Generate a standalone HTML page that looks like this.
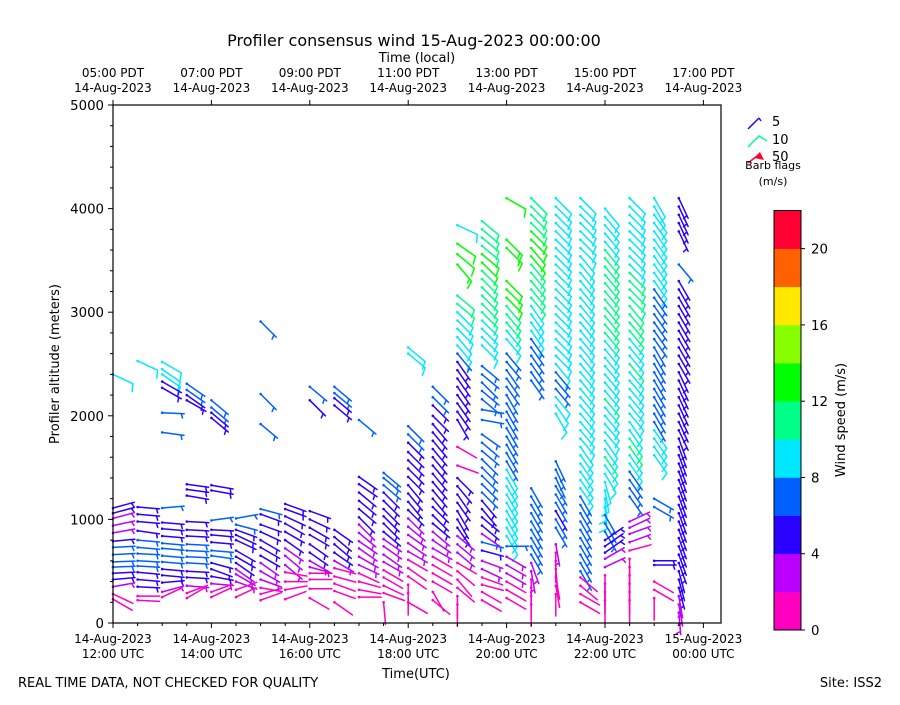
<!DOCTYPE html>
<html><head><meta charset="utf-8">
<style>
html,body{margin:0;padding:0;background:#fff;}
svg text{font-family:"DejaVu Sans","Liberation Sans",sans-serif;fill:#000;}
</style></head>
<body>
<svg id="chart" width="900" height="700" viewBox="0 0 900 700" xmlns="http://www.w3.org/2000/svg">
<rect x="0" y="0" width="900" height="700" fill="#fff"/>
<text x="414" y="46" font-size="16" text-anchor="middle">Profiler consensus wind 15-Aug-2023 00:00:00</text>
<text x="417" y="62" font-size="13" text-anchor="middle">Time (local)</text>
<g id="barbs"></g>
<g id="axes"></g>
<rect x="113" y="105" width="608" height="518" fill="none" stroke="#000" stroke-width="1.2"/>
<text transform="translate(59,364) rotate(-90)" font-size="13" text-anchor="middle">Profiler altitude (meters)</text>
<text x="416" y="678" font-size="13" text-anchor="middle">Time(UTC)</text>
<text x="18" y="687" font-size="13">REAL TIME DATA, NOT CHECKED FOR QUALITY</text>
<text x="882" y="687" font-size="13" text-anchor="end">Site: ISS2</text>
<g>
<line x1="748" y1="129" x2="759" y2="118" stroke="#2a00ff" stroke-width="1.5"/>
<line x1="759" y1="118" x2="761" y2="121" stroke="#2a00ff" stroke-width="1.5"/>
<text x="772" y="126" font-size="13">5</text>
<polyline points="748,147 759,136 767,141" fill="none" stroke="#00ff88" stroke-width="1.5"/>
<text x="772" y="144" font-size="13">10</text>
<line x1="748" y1="163" x2="757" y2="156" stroke="#ff0033" stroke-width="1.5"/>
<polygon points="754,158 760,152 764,160" fill="#ff0033"/>
<text x="772" y="161" font-size="13">50</text>
<text x="773" y="169" font-size="11" text-anchor="middle">Barb flags</text>
<text x="773" y="185" font-size="11" text-anchor="middle">(m/s)</text>
</g>
<g id="cbar"></g>
<text transform="translate(845,420) rotate(-90)" font-size="13" text-anchor="middle">Wind speed (m/s)</text>
</svg>
<script>
const NS="http://www.w3.org/2000/svg";
const levels=[0,2,4,6,8,10,12,14,16,18,20,22];
const levelColors=["#ff00c0","#bb00ff","#2a00ff","#0060ff","#00e8ff","#00ff88","#00ff00","#88ff00","#ffe800","#ff6000","#ff0033"];
const cbarTicks=[0,4,8,12,16,20];
const yTicks=[0,1000,2000,3000,4000,5000];
const xTickHours=[12,14,16,18,20,22,24];
const xTickUTC=["12:00 UTC","14:00 UTC","16:00 UTC","18:00 UTC","20:00 UTC","22:00 UTC","00:00 UTC"];
const xTickDate=["14-Aug-2023","14-Aug-2023","14-Aug-2023","14-Aug-2023","14-Aug-2023","14-Aug-2023","15-Aug-2023"];
const xTickPDT=["05:00 PDT","07:00 PDT","09:00 PDT","11:00 PDT","13:00 PDT","15:00 PDT","17:00 PDT"];
const profileTimes=[12,12.5,13,13.5,14,14.5,15,15.5,16,16.5,17,17.5,18,18.5,19,19.5,20,20.5,21,21.5,22,22.5,23,23.5];
// each profile: [height m, speed m/s, barb screen angle deg]
const profileBarbs=[
[[2400,9,25],[1110,4,-15],[1060,4,-15],[1010,3,-15],[940,3,-12],[870,3,-10],[790,5,-5],[730,6,-3],[660,6,-3],[590,7,-2],[540,6,-2],[480,5,-3],[420,4,-5],[350,3,-10],[280,1.5,25],[230,1.5,30]],
[[2530,8,25],[1120,5,5],[1050,5,5],[980,5,5],[890,5,8],[800,6,5],[730,7,5],[670,7,3],[600,7,3],[550,6,3],[490,5,5],[420,5,5],[350,4,3],[260,1.5,0],[220,1.5,3]],
[[2520,9,30],[2450,9,35],[2400,8,35],[2330,5,30],[2270,4,30],[2030,6,3],[1840,6,8],[1110,7,-5],[970,5,5],[910,5,5],[840,5,5],[770,6,5],[720,7,5],[650,6,5],[590,6,5],[520,5,5],[460,5,5],[390,4,-5],[300,3,-15],[250,1.5,-25]],
[[2310,6,35],[2250,6,35],[2200,5,35],[2150,4,30],[1340,5,8],[1290,5,8],[1230,4,10],[980,5,3],[900,5,3],[840,5,3],[760,6,3],[700,7,3],[640,6,3],[580,6,3],[500,5,3],[440,4,3],[360,3,5],[290,1.5,-20],[240,1.5,-30]],
[[2150,6,40],[2080,6,40],[2030,5,40],[1980,4,40],[1330,4,10],[1280,4,10],[990,6,-8],[900,5,3],[850,5,5],[780,5,5],[700,6,5],[650,6,8],[580,5,15],[520,5,20],[450,4,10],[380,3,5],[300,1.5,-20],[250,1.5,-25]],
[[1010,6,-10],[950,6,15],[900,5,20],[850,5,25],[800,5,25],[700,5,30],[640,4,30],[580,4,35],[520,3,35],[470,3,30],[400,3,20],[320,1.5,-20],[250,1.5,-25]],
[[2910,6,45],[2210,6,45],[1920,6,40],[1100,6,15],[1050,5,20],[950,5,20],[880,5,25],[800,4,30],[730,4,30],[650,4,30],[580,3,35],[500,3,30],[420,3,20],[340,1.5,10],[280,1.5,-15],[220,1.5,-20]],
[[1150,5,20],[1100,5,20],[1030,5,25],[960,4,30],[880,4,30],[800,4,35],[720,3,35],[650,3,40],[560,3,40],[490,1.5,10],[400,1.5,0],[320,1.5,-10],[230,1.5,-20]],
[[2280,6,40],[2150,5,45],[1080,5,20],[1000,5,25],[920,5,30],[850,4,30],[760,4,35],[680,4,35],[600,3,30],[540,3,15],[480,1.5,0],[420,1.5,0],[330,1.5,0],[240,1.5,30]],
[[2280,6,40],[2220,6,40],[2170,5,40],[2100,5,40],[900,5,35],[830,4,40],[760,4,40],[680,4,35],[600,3,30],[530,1.5,15],[450,1.5,15],[380,1.5,20],[310,1.5,20],[200,1.5,35]],
[[1960,6,40],[1410,5,35],[1340,5,35],[1260,5,40],[1180,4,40],[1100,4,40],[1020,4,45],[950,3,45],[870,3,40],[790,3,35],[720,3,35],[640,3,30],[560,3,25],[480,1.5,25],[400,1.5,15],[320,1.5,10],[250,1.5,0]],
[[1450,6,40],[1400,6,40],[1330,6,40],[1260,5,45],[1180,5,45],[1100,5,45],[1030,4,45],[960,4,45],[880,4,40],[810,3,35],[740,3,35],[660,3,35],[590,3,30],[510,1.5,30],[440,1.5,30],[360,1.5,25],[290,1.5,20],[200,1.5,85]],
[[2660,8,40],[2600,8,40],[1900,6,45],[1820,6,45],[1740,5,45],[1650,5,45],[1570,5,45],[1490,5,45],[1410,5,45],[1330,5,50],[1250,4,50],[1170,4,50],[1090,4,45],[1010,3,45],[930,3,40],[850,3,35],[770,3,35],[690,3,30],[610,1.5,30],[530,1.5,35],[450,1.5,35],[370,1.5,90],[290,1.5,90],[200,1.5,30]],
[[2280,6,45],[2180,6,45],[2100,5,45],[2000,5,45],[1920,5,50],[1840,5,50],[1760,5,50],[1680,5,50],[1600,5,50],[1520,5,50],[1440,5,50],[1360,5,50],[1280,4,50],[1200,4,50],[1120,4,45],[1040,4,45],[960,4,40],[880,3,40],[800,3,35],[720,3,30],[640,1.5,30],[560,1.5,30],[480,1.5,30],[400,1.5,30],[300,1.5,60],[220,1.5,40]],
[[3840,9,25],[3660,12,35],[3560,12,40],[3460,13,50],[3160,11,40],[3080,10,40],[3000,9,45],[2920,9,45],[2840,8,45],[2760,8,50],[2680,8,50],[2600,7,50],[2520,5,55],[2440,5,55],[2360,5,55],[2280,5,55],[2200,4,55],[2120,4,55],[2040,4,55],[1960,5,60],[1700,1.5,30],[1520,1.5,20],[1400,5,45],[1320,5,50],[1240,5,55],[1160,5,55],[1080,5,60],[1000,5,60],[920,4,55],[840,3,40],[760,3,40],[680,3,40],[580,1.5,30],[500,1.5,40],[420,1.5,50],[340,1.5,40],[260,1.5,90],[180,1.5,90]],
[[3880,11,40],[3800,11,40],[3720,11,40],[3640,11,40],[3560,12,40],[3480,12,45],[3400,11,45],[3320,11,45],[3240,11,45],[3160,11,45],[3080,10,45],[3000,10,45],[2920,9,45],[2840,9,45],[2760,9,45],[2680,9,45],[2480,6,40],[2400,6,40],[2320,6,45],[2240,6,40],[2160,6,40],[2060,6,10],[1960,6,10],[1820,7,35],[1740,6,40],[1660,6,40],[1580,6,45],[1500,6,45],[1420,6,45],[1340,6,45],[1260,6,45],[1180,5,50],[1100,5,50],[1020,4,40],[940,4,40],[860,3,35],[780,6,15],[700,4,15],[600,3,20],[520,3,25],[440,1.5,20],[370,1.5,15],[300,1.5,30],[220,1.5,30]],
[[4100,12,30],[3700,13,45],[3620,13,45],[3300,12,45],[3220,12,45],[3140,12,45],[3060,11,50],[2980,11,50],[2900,10,50],[2820,9,50],[2740,8,50],[2600,6,50],[2520,6,50],[2440,6,55],[2360,6,55],[2280,6,55],[2200,6,60],[2120,7,60],[2040,7,60],[1960,7,60],[1880,7,60],[1800,6,60],[1720,6,60],[1640,7,60],[1560,7,60],[1480,8,60],[1400,8,60],[1320,8,60],[1240,8,60],[1160,8,60],[1080,8,60],[1000,8,60],[920,8,60],[840,8,60],[740,6,0],[640,3,30],[560,3,30],[480,3,30],[400,1.5,30],[320,1.5,30],[240,1.5,30]],
[[4100,11,45],[4020,11,45],[3940,11,45],[3860,11,45],[3780,12,45],[3700,12,45],[3620,12,50],[3540,12,50],[3460,11,50],[3380,11,50],[3300,11,50],[3220,11,50],[3140,10,50],[3060,9,55],[2980,9,55],[2900,8,55],[2820,8,55],[2740,7,55],[2660,7,55],[2580,7,55],[2500,7,55],[2420,6,55],[2340,6,55],[1300,6,60],[1220,6,60],[1140,6,60],[1060,6,60],[980,6,60],[900,6,60],[820,6,60],[740,6,60],[660,6,60],[580,3,70],[500,3,80],[420,1.5,90],[340,1.5,90],[260,1.5,90],[180,1.5,90]],
[[4100,9,45],[4020,9,45],[3940,9,45],[3860,9,45],[3780,9,45],[3700,9,45],[3620,9,45],[3540,9,45],[3460,9,45],[3380,9,45],[3300,9,45],[3220,9,45],[3140,9,45],[3060,9,45],[2980,9,45],[2900,9,45],[2820,9,45],[2740,8,45],[2660,8,45],[2580,8,45],[2500,8,50],[2420,7,50],[2340,7,50],[2260,7,50],[2180,9,50],[2100,9,55],[2020,9,60],[1560,6,65],[1480,6,65],[1400,6,65],[1320,6,60],[1240,6,60],[1160,6,60],[1080,5,60],[1000,6,60],[920,6,60],[760,3,80],[680,1.5,90],[600,1.5,90],[520,1.5,85],[440,1.5,80],[360,1.5,80],[280,1.5,90]],
[[4100,9,45],[4020,9,45],[3940,9,45],[3860,9,45],[3780,9,45],[3700,9,45],[3620,9,45],[3540,9,50],[3460,9,50],[3380,9,50],[3300,9,50],[3220,9,50],[3140,9,50],[3060,9,50],[2980,9,50],[2900,9,50],[2820,9,50],[2740,9,50],[2660,9,50],[2580,9,50],[2500,9,50],[2420,9,50],[2340,9,50],[2260,9,50],[2180,9,50],[2100,9,50],[2020,9,50],[1940,9,50],[1860,9,50],[1780,9,50],[1700,9,55],[1620,9,55],[1540,9,55],[1460,9,55],[1380,9,55],[1300,9,55],[1220,7,60],[1140,7,60],[1060,7,60],[980,7,60],[900,7,60],[820,6,60],[740,6,60],[660,6,60],[580,6,60],[500,6,60],[440,1.5,40],[360,1.5,40],[280,1.5,30],[200,1.5,30]],
[[4000,9,50],[3920,9,50],[3840,9,50],[3760,9,50],[3680,9,50],[3600,10,50],[3520,10,50],[3440,11,50],[3360,11,50],[3280,11,50],[3200,11,50],[3120,11,50],[3040,10,50],[2960,10,50],[2880,10,50],[2800,10,50],[2720,9,50],[2640,9,50],[2560,9,50],[2480,9,50],[2400,9,50],[2320,9,50],[2240,9,50],[2160,10,50],[2080,9,50],[2000,9,50],[1920,9,50],[1840,9,50],[1760,9,55],[1680,9,55],[1600,10,55],[1520,9,55],[1440,9,60],[1360,9,75],[1280,9,80],[1200,9,85],[1120,9,85],[1040,7,60],[960,7,60],[880,7,60],[800,4,-35],[740,4,-35],[680,4,-35],[620,3,-30],[540,3,-25],[460,1.5,90],[380,1.5,90],[300,1.5,90],[220,1.5,90]],
[[4100,9,45],[4020,9,45],[3940,9,45],[3860,9,45],[3780,9,45],[3700,9,45],[3620,9,45],[3540,9,45],[3460,9,45],[3380,10,45],[3300,11,45],[3220,11,45],[3140,11,45],[3060,11,50],[2980,11,50],[2900,10,50],[2820,10,50],[2740,9,50],[2660,9,50],[2580,9,50],[2500,10,50],[2420,9,50],[2340,9,50],[2260,9,50],[2180,9,50],[2100,9,50],[2020,9,50],[1940,9,55],[1860,9,55],[1780,10,55],[1700,10,55],[1620,9,55],[1540,9,55],[1460,7,55],[1380,7,55],[1300,7,55],[1220,7,55],[980,3,-25],[920,3,-25],[860,3,-20],[780,3,-20],[700,1.5,-15],[620,1.5,90],[540,1.5,90],[460,1.5,90],[380,1.5,90],[300,1.5,90],[220,1.5,90]],
[[4100,9,60],[4020,9,60],[3940,9,55],[3860,9,55],[3780,9,55],[3700,9,55],[3620,9,55],[3540,9,55],[3460,9,55],[3380,9,55],[3300,9,55],[3220,7,55],[3140,7,55],[3060,7,55],[2980,7,55],[2900,7,55],[2820,7,55],[2740,7,55],[2660,7,60],[2580,7,60],[2500,7,60],[2420,7,60],[2340,7,60],[2260,7,60],[2180,7,60],[2100,7,60],[2020,7,60],[1940,7,60],[1860,9,55],[1780,9,55],[1700,9,55],[1620,9,55],[1200,7,30],[1120,7,30],[600,5,0],[560,5,0],[400,1.5,30],[320,1.5,30],[240,1.5,90]],
[[4100,5,65],[4020,5,65],[3940,5,65],[3860,5,65],[3780,5,65],[3460,6,50],[3300,5,60],[3220,5,60],[3140,5,60],[3060,5,60],[2980,5,60],[2900,5,60],[2820,5,60],[2740,5,60],[2660,5,60],[2580,5,60],[2500,5,60],[2420,5,65],[2340,5,65],[2260,5,65],[2180,5,65],[2100,5,65],[2020,5,65],[1940,5,65],[1860,5,65],[1780,5,70],[1700,5,70],[1620,5,70],[1540,5,70],[1460,5,70],[1380,5,70],[1300,5,70],[1220,5,70],[1140,5,70],[1060,5,70],[980,5,70],[900,5,70],[820,5,70],[740,5,70],[660,5,70],[580,5,70],[500,5,75],[420,5,75],[340,5,75],[260,3,80],[180,3,80],[100,3,85]]
];
function xScale(t){return 113+(t-12)*49.2;}
function yScale(h){return 623-h*0.1036;}
function colorFor(s){for(let i=0;i<levelColors.length;i++){if(s<levels[i+1])return levelColors[i];}return levelColors[levelColors.length-1];}
function mk(tag,attrs,parent){const e=document.createElementNS(NS,tag);for(const k in attrs)e.setAttribute(k,attrs[k]);parent.appendChild(e);return e;}

const barbG=document.getElementById('barbs');
const L=22;
profileTimes.forEach((t,ci)=>{
  const bx=xScale(t);
  profileBarbs[ci].forEach((b)=>{
    const h=b[0],s=b[1],a=b[2]*Math.PI/180;
    const by=yScale(h);
    const col=colorFor(s);
    const g=document.createElementNS(NS,'g');
    
    
    barbG.appendChild(g);
    const ux=Math.cos(a),uy=Math.sin(a);
    const ex=bx+L*ux,ey=by+L*uy;
    let d=`M${bx.toFixed(1)} ${by.toFixed(1)}L${ex.toFixed(1)} ${ey.toFixed(1)}`;
    const ta=a+70*Math.PI/180,tx=Math.cos(ta),ty=Math.sin(ta);
    const n=Math.round(s/5);let full=Math.floor(n/2),half=n%2;
    let off=0;
    if(full===0&&half===1)off=3;
    for(let i=0;i<full;i++){const px=ex-off*ux,py=ey-off*uy;d+=`M${px.toFixed(1)} ${py.toFixed(1)}l${(8*tx).toFixed(1)} ${(8*ty).toFixed(1)}`;off+=3;}
    if(half){const px=ex-off*ux,py=ey-off*uy;d+=`M${px.toFixed(1)} ${py.toFixed(1)}l${(4.5*tx).toFixed(1)} ${(4.5*ty).toFixed(1)}`;}
    mk('path',{d:d,stroke:col,'stroke-width':1.5,fill:'none','stroke-linecap':'round'},g);
    mk('circle',{cx:bx.toFixed(1),cy:by.toFixed(1),r:1.3,fill:col},g);
  });
});

const ax=document.getElementById('axes');
yTicks.forEach(v=>{const y=yScale(v);
  mk('line',{x1:108,y1:y,x2:113,y2:y,stroke:'#000'},ax);
  const t=mk('text',{x:104,y:y+5,'font-size':13.3,'text-anchor':'end'},ax);t.textContent=v;
  
  
});
for(let v=200;v<5000;v+=200){if(v%1000===0)continue;const y=yScale(v);mk('line',{x1:110,y1:y,x2:113,y2:y,stroke:'#000'},ax);}
for(let i=0;i<25;i++){const x=xScale(12+i*0.5);if(i%4===0)continue;mk('line',{x1:x,y1:623,x2:x,y2:626,stroke:'#000'},ax);}
xTickHours.forEach((hr,i)=>{const x=xScale(hr);
  mk('line',{x1:x,y1:623,x2:x,y2:628,stroke:'#000'},ax);
  mk('line',{x1:x,y1:100,x2:x,y2:105,stroke:'#000'},ax);
  const a=mk('text',{x:x,y:643,'font-size':12,'text-anchor':'middle'},ax);a.textContent=xTickDate[i];
  
  
  const b=mk('text',{x:x,y:658,'font-size':12,'text-anchor':'middle'},ax);b.textContent=xTickUTC[i];
  
  
  const c=mk('text',{x:x,y:77,'font-size':12,'text-anchor':'middle'},ax);c.textContent=xTickPDT[i];
  
  
  const e=mk('text',{x:x,y:92,'font-size':12,'text-anchor':'middle'},ax);e.textContent="14-Aug-2023";
  
  
});

const cb=document.getElementById('cbar');
const cbTop=210.5,cbBot=630,cbX=774,cbW=27;
function cbY(v){return cbBot-(v-levels[0])/(levels[levels.length-1]-levels[0])*(cbBot-cbTop);}
levelColors.forEach((c,i)=>{const y1=cbY(levels[i+1]),y0=cbY(levels[i]);
  const r=mk('rect',{x:cbX,y:y1,width:cbW,height:(y0-y1)+0.3,fill:c},cb);
  
  
});
mk('rect',{x:cbX,y:cbTop,width:cbW,height:cbBot-cbTop,fill:'none',stroke:'#000','stroke-width':1},cb);
cbarTicks.forEach(v=>{const y=cbY(v);mk('line',{x1:cbX+cbW,y1:y,x2:cbX+cbW+4,y2:y,stroke:'#000'},cb);
  const t=mk('text',{x:811,y:y+5,'font-size':13.3},cb);t.textContent=v;
  
  
});
</script>
</body></html>
